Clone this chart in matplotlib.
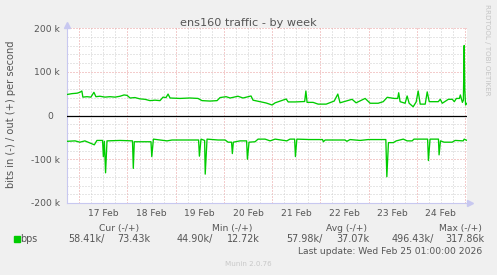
import matplotlib
matplotlib.use('Agg')
import matplotlib.pyplot as plt
from matplotlib.patches import Rectangle
import numpy as np

# ---- data (hours since 17 Feb 00:00, kbit/s) ----
out_hours = [-6.1, -3.6, -1.1, 0.3, 1.3, 1.8, 3.8, 5.8, 7.3, 8.3, 10.3, 12.8, 15.3, 17.8,
             20.3, 22.3, 23.8, 25.3, 27.7, 30.2, 32.7, 35.2, 37.7, 40.2, 41.7, 43.2, 44.2,
             45.2, 50.1, 55.1, 59.1, 61.1, 65.1, 68.6, 70.1, 73.1, 75.1, 79.0, 81.5, 85.5,
             86.5, 90.0, 93.0, 96.0, 97.5, 103.0, 104.0, 107.5, 112.2, 112.8, 113.4, 116.4,
             118.9, 122.9, 126.9, 128.7, 129.8, 135.8, 137.8, 142.3, 144.8, 148.8, 151.3,
             153.3, 156.7, 158.5, 159.0, 159.7, 162.2, 163.2, 164.2, 166.2, 167.7, 168.7,
             169.7, 172.2, 173.2, 174.2, 178.7, 179.7, 180.7, 183.7, 185.7, 186.7, 187.7,
             189.2, 189.7, 190.7, 191.2, 191.6, 191.9, 192.3, 193.0]
out_kbps = [48, 50, 51, 53, 56, 42, 43, 42, 53, 43, 44, 42, 43, 42,
            44, 47, 46, 40, 41, 38, 37, 34, 35, 34, 42, 41, 49,
            40, 39, 40, 39, 34, 33, 34, 41, 43, 40, 44, 40, 44.6,
            35, 31.6, 28.6, 24, 29, 37.7, 31, 31, 32, 56, 30, 30,
            26, 26, 33, 49, 29, 37, 29, 39, 28, 28, 31.6,
            41.6, 39, 39, 52, 31.6, 28, 44.6, 28, 20, 31, 56,
            26, 26, 54, 31.6, 31.6, 37, 28, 37, 37, 31.6, 39,
            39, 47, 30, 35, 160, 60, 24, 28]

in_hours = [-6.1, -2.1, 0.3, 2.8, 7.5, 8.8, 11.6, 12.0, 12.5, 13.1, 13.8, 20.3, 26.5, 26.9,
            27.4, 32.7, 35.7, 36.1, 36.9, 40.2, 43.7, 46.2, 52.6, 59.4, 59.8, 60.6, 62.4,
            62.7, 63.6, 69.1, 72.6, 74.1, 75.8, 76.2, 76.7, 80.0, 83.3, 83.7, 84.5, 87.5,
            89.0, 92.5, 95.0, 97.5, 103.3, 104.9, 107.2, 107.6, 108.3, 114.9, 121.1, 121.5,
            122.4, 132.3, 133.2, 134.8, 139.8, 143.8, 152.6, 153.1, 153.9, 156.3, 157.8,
            161.3, 163.2, 165.7, 166.6, 173.4, 173.8, 174.6, 178.8, 179.1, 179.8, 181.6,
            185.6, 187.1, 191.1, 191.6, 193.0]
in_kbps = [59, 58, 61, 58, 67, 57, 57, 94, 59, 131, 58, 57, 58, 121,
           60, 60, 60, 94, 54, 56, 58, 56, 56, 56, 93, 54, 57,
           134, 54, 56, 56, 61, 61, 87, 61, 58, 58, 100, 61, 60,
           54, 54, 58, 54, 58, 54, 54, 94, 54, 55, 55, 60,
           56, 56, 59, 55, 57, 55, 55, 140, 62, 62, 58,
           54, 58, 58, 54, 54, 103, 54, 54, 90, 58, 61,
           61, 57, 58, 54, 57]

day_labels = ['17 Feb', '18 Feb', '19 Feb', '20 Feb', '21 Feb', '22 Feb', '23 Feb', '24 Feb']
ytick_vals = [-200, -100, 0, 100, 200]
ytick_labels = ['-200 k', '-100 k', '0  ', '100 k', '200 k']

title = 'ens160 traffic - by week'
ylabel = 'bits in (-) / out (+) per second'
legend_headers = ['Cur (-/+)', 'Min (-/+)', 'Avg (-/+)', 'Max (-/+)']
legend_values = ['58.41k/', '73.43k', '44.90k/', '12.72k', '57.98k/', '37.07k', '496.43k/', '317.86k']
last_update = 'Last update: Wed Feb 25 01:00:00 2026'

# ---- style ----
W, H = 497, 275
BG = '#f0f0f0'
TXT = '#555555'
GREEN = '#00cc00'
AXC = '#c8c8f0'
FS = 6.6

plt.rcParams['font.family'] = ['DejaVu Sans']

fig = plt.figure(figsize=(W / 100, H / 100), dpi=100, facecolor=BG)
ax = fig.add_axes([67 / W, 1 - 203 / H, 400 / W, 175 / H])
ax.set_facecolor('white')
ax.set_xlim(-6.1, 193.0)
ax.set_ylim(-200, 200)

# grid
lw = 0.72
for h in np.arange(-6, 194, 6):
    major = (h % 24 == 0)
    ax.axvline(h, color='#e89a9a' if major else '#cfcfcf', lw=lw,
               linestyle=(0, (1, 2)), zorder=1)
for v in np.arange(-200, 201, 20):
    major = (v % 100 == 0)
    ax.axhline(v, color='#e89a9a' if major else '#cfcfcf', lw=lw,
               linestyle=(0, (1, 2)), zorder=1)

ax.axhline(0, color='black', lw=0.9, zorder=3)

ax.plot(out_hours, out_kbps, color=GREEN, lw=0.95, zorder=4)
ax.plot(in_hours, [-v for v in in_kbps], color=GREEN, lw=0.95, zorder=4)

# axes
for s in ['top', 'right']:
    ax.spines[s].set_visible(False)
for s in ['left', 'bottom']:
    ax.spines[s].set_color(AXC)
    ax.spines[s].set_linewidth(0.8)
ax.plot([0], [1.02], marker='^', color=AXC, markersize=4, transform=ax.transAxes, clip_on=False)
ax.plot([1.008], [0], marker='>', color=AXC, markersize=4, transform=ax.transAxes, clip_on=False)

ax.set_yticks(ytick_vals)
ax.set_yticklabels(ytick_labels)
ax.set_xticks([24 * i + 12 for i in range(len(day_labels))])
ax.set_xticklabels(day_labels)
ax.tick_params(axis='both', length=0, labelsize=FS, labelcolor=TXT)
ax.tick_params(axis='y', pad=5)
ax.tick_params(axis='x', pad=4.5)

# texts
def ft(x, y, s, **kw):
    d = dict(fontsize=FS, color=TXT, transform=fig.transFigure)
    d.update(kw)
    fig.text(x / W, 1 - y / H, s, **d)

ft(248.5, 26, title, fontsize=8.1, ha='center', va='baseline')
ft(11, 114, ylabel, rotation=90, ha='center', va='center', fontsize=7.1)
ft(487, 50, 'RRDTOOL / TOBI OETIKER', rotation=270, ha='center', va='center',
   fontsize=5.1, color='#c4c4c4')

hdr_x = [98.7, 211.7, 326, 439]
for x, s in zip(hdr_x, legend_headers):
    ft(x, 230.7, s, ha='left', va='baseline')
val_x = [68, 117, 177, 227, 286, 336, 392, 445]
for x, s in zip(val_x, legend_values):
    ft(x, 242.3, s, ha='left', va='baseline', fontsize=6.9)
ft(20, 242.3, 'bps', ha='left', va='baseline', fontsize=6.9)
fig.patches.append(Rectangle((14 / W, 1 - 242 / H), 6 / W, 6 / H,
                             transform=fig.transFigure, color=GREEN))
ft(482, 254, last_update, ha='right', va='baseline')
ft(248, 266, 'Munin 2.0.76', ha='center', va='baseline', fontsize=5.1, color='#c8c8c8')

fig.savefig('out.png', dpi=100, facecolor=BG)
